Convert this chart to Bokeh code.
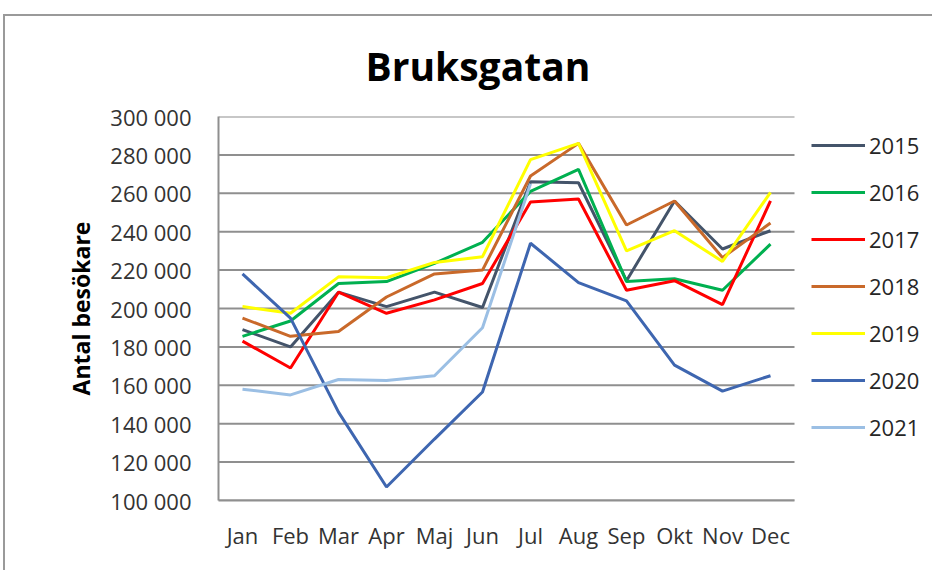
from bokeh.plotting import figure
from bokeh.models import Range1d, FixedTicker, Legend, LegendItem
from bokeh.embed import file_html
from bokeh.resources import INLINE

months = ["Jan", "Feb", "Mar", "Apr", "Maj", "Jun", "Jul", "Aug", "Sep", "Okt", "Nov", "Dec"]
years = ["2015", "2016", "2017", "2018", "2019", "2020", "2021"]

v2015 = [189000, 180000, 208500, 201000, 208500, 200500, 266000, 265500, 214500, 256000, 231000, 240500]
v2016 = [185500, 193500, 213000, 214000, 223500, 234500, 261000, 272500, 214000, 215500, 209500, 233500]
v2017 = [183000, 169000, 208500, 197500, 204500, 213000, 255500, 257000, 209500, 214500, 202000, 256000]
v2018 = [195000, 185500, 188000, 206000, 218000, 220000, 269000, 286000, 243500, 256000, 226500, 244500]
v2019 = [201000, 197500, 216500, 216000, 224000, 227000, 277500, 286000, 230000, 240500, 224500, 260500]
v2020 = [218000, 195000, 146000, 107000, 132000, 156500, 234000, 213500, 204000, 170500, 157000, 165000]
v2021 = [158000, 155000, 163000, 162500, 165000, 190000, 265000]

y_ticks = [100000, 120000, 140000, 160000, 180000, 200000, 220000, 240000, 260000, 280000, 300000]
y_tick_labels = ["100 000", "120 000", "140 000", "160 000", "180 000", "200 000",
                 "220 000", "240 000", "260 000", "280 000", "300 000"]

series = [v2015, v2016, v2017, v2018, v2019, v2020, v2021]
colors = ["#44546A", "#00B050", "#FF0000", "#C9692A", "#FFFF00", "#3E66B0", "#9BBFE4"]

FONT = "Open Sans"
month_idx = list(range(len(months)))
x_lo = month_idx[0] - 0.5
x_hi = month_idx[-1] + 0.5

p = figure(width=932, height=570, x_range=Range1d(x_lo, x_lo + 714 / 48), y_range=Range1d(100000, 300000),
           output_backend="svg", toolbar_location=None,
           min_border_left=218, min_border_right=0, min_border_top=116, min_border_bottom=70)
p.border_fill_color = None
p.outline_line_color = None
p.styles = {"box-shadow": "inset 3px 0 0 0 #ffffff, inset 0 14px 0 0 #ffffff, "
                          "inset 5px 0 0 0 #9a9a9a, inset 0 16px 0 0 #9a9a9a"}

p.title.text = "Bruksgatan"
p.title.text_font = FONT
p.title.text_font_size = "39px"
p.title.text_font_style = "bold"
p.title.text_color = "#000000"
p.title.align = "left"
p.title.offset = 147
p.title.standoff = 50

p.xgrid.grid_line_color = None
p.ygrid.grid_line_color = None
# horizontal gridlines limited to the month area
p.segment(x0=x_lo, x1=x_hi, y0=y_ticks, y1=y_ticks, line_color="#8f8f8f", line_width=2)

p.yaxis.ticker = FixedTicker(ticks=y_ticks)
p.yaxis.major_label_overrides = {t: l for t, l in zip(y_ticks, y_tick_labels)}
p.xaxis.ticker = FixedTicker(ticks=month_idx)
p.xaxis.major_label_overrides = {i: m for i, m in zip(month_idx, months)}
p.xaxis.bounds = (x_lo, x_hi)
for ax in (p.xaxis[0], p.yaxis[0]):
    ax.major_tick_line_color = None
    ax.minor_tick_line_color = None
    ax.axis_line_color = "#8f8f8f"
    ax.axis_line_width = 2
    ax.major_label_text_font = FONT
    ax.major_label_text_font_size = "22px"
    ax.major_label_text_color = "#333333"
p.yaxis.major_label_standoff = 21
p.xaxis.major_label_standoff = 13
p.yaxis.axis_label = "Antal besökare"
p.yaxis.axis_label_text_font = FONT
p.yaxis.axis_label_text_font_size = "23px"
p.yaxis.axis_label_text_font_style = "bold"
p.yaxis.axis_label_text_color = "#000000"
p.yaxis.axis_label_standoff = 10

items = []
for yr, vals, c in zip(years, series, colors):
    r = p.line(month_idx[:len(vals)], vals, line_color=c, line_width=3)
    items.append(LegendItem(label=yr, renderers=[r]))

legend = Legend(items=items, location=(593, 58), padding=10, margin=0,
                glyph_width=54, glyph_height=30, label_height=30, spacing=17,
                label_standoff=4, label_text_font=FONT, label_text_font_size="22px",
                label_text_color="#262626", border_line_color=None, background_fill_alpha=0)
p.add_layout(legend, "center")

open("out.html", "w").write(file_html(p, INLINE))
